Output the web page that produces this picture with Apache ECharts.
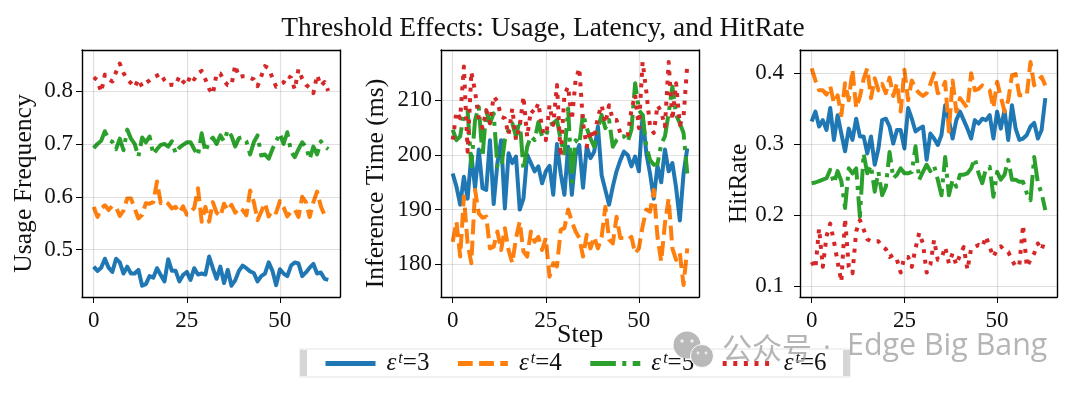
<!DOCTYPE html>
<html><head><meta charset="utf-8">
<style>html,body{margin:0;padding:0;background:#fff}#c{width:1080px;height:395px}</style>
<script src="https://cdn.jsdelivr.net/npm/echarts@6/dist/echarts.min.js"></script>
</head><body><div id="c"></div>
<script>
const xTicks=[0,25,50];
const usageTicks=[0.5,0.6,0.7,0.8];
const latencyTicks=[180,190,200,210];
const hitTicks=[0.1,0.2,0.3,0.4];
const seriesNames=['ε^t=3','ε^t=4','ε^t=5','ε^t=6'];
const usage3=[.468,.460,.466,.483,.466,.458,.483,.476,.455,.468,
.455,.455,.462,.432,.435,.450,.447,.465,.452,.440,
.482,.460,.460,.440,.452,.458,.443,.465,.453,.455,
.453,.487,.465,.445,.468,.437,.462,.432,.442,.460,
.470,.465,.459,.456,.440,.450,.455,.476,.460,.433,
.463,.455,.450,.470,.476,.474,.450,.457,.466,.473,
.455,.457,.445,.443];
const usage4=[.581,.562,.578,.584,.575,.583,.580,.564,.574,.597,
.597,.578,.559,.566,.588,.587,.590,.629,.588,.592,
.587,.578,.581,.570,.582,.566,.571,.579,.616,.553,
.581,.553,.590,.570,.563,.587,.574,.585,.570,.580,
.575,.565,.612,.590,.556,.572,.588,.563,.575,.570,
.592,.580,.563,.572,.576,.562,.600,.590,.562,.590,
.610,.582,.565,.571];
const usage5=[.692,.700,.706,.724,.708,.704,.690,.710,.688,.727,
.710,.700,.676,.712,.703,.714,.680,.690,.698,.700,
.695,.705,.682,.693,.698,.703,.703,.690,.678,.720,
.685,.705,.712,.700,.716,.705,.726,.715,.695,.711,
.713,.705,.680,.703,.716,.678,.680,.672,.690,.705,
.720,.700,.722,.685,.675,.690,.703,.695,.671,.695,
.680,.705,.695,.690];
const usage6=[.826,.820,.798,.831,.822,.818,.836,.852,.834,.822,
.815,.807,.822,.808,.815,.820,.826,.829,.833,.820,
.811,.812,.811,.828,.818,.811,.830,.822,.834,.838,
.822,.804,.794,.833,.833,.819,.811,.811,.849,.826,
.828,.828,.825,.822,.809,.828,.847,.843,.825,.808,
.812,.816,.829,.825,.803,.841,.823,.812,.806,.796,
.830,.810,.817,.800];
const latency3=[196.6,194.2,190.9,196,192,200,194,201,193.9,193.6,
202.7,191,198.5,202.7,190.2,200.3,198.5,199.7,190,192,
200,198.5,197,197.9,194.8,197,198,192.7,202,196.6,
192.7,201.5,192.7,200,201.8,194,201.5,199.4,200.6,205.2,
196.3,193.6,190.9,194.2,197,199,200.6,200,197.9,199.7,
197,207.3,200.3,196.6,192,198,195,201,197,198.5,
194,188,196.6,201.2];
const latency4=[184.1,187.8,181.4,192.4,183.8,180.2,193.6,189.3,188.5,188.7,
182.9,183.2,186,182.6,186.6,182.6,180.2,184.8,187.8,182.3,
181.4,186,184.1,185,182.6,184.8,177.7,180.2,179.6,186.3,
186.6,190,187.8,186,184.8,181.4,185.4,182.9,185,182.9,
185,190.5,184.5,183.8,188.7,184.8,184.8,184.5,185,182,
182.9,186.9,190,189.6,193.6,185,180.5,187.5,192,182.9,
180.8,182,176.2,182.9];
const latency5=[204.6,202.7,203.4,207.6,208,197.9,206.4,208.8,199.7,208,
205.8,207.6,197.9,197.6,202.7,204.6,205.8,203.4,206.4,197.3,
201.5,203.4,202.7,206,203.4,203.4,205.5,205.8,206.4,202.7,
200.3,208.5,195.1,202.7,202,207.6,204.9,203,201.5,204.9,
207.3,204.9,206.4,201.5,202.7,203.4,203.4,202.4,204.6,213.1,
208.2,207.3,201.5,199.1,198.2,198.3,202,203.4,207.6,212.5,
207.3,205.8,204,196.6];
const latency6=[202.8,207.9,206.7,216.2,200.6,215.2,211.6,206.7,204.9,208.2,
205.8,210.7,209.8,207,206.7,203.7,208.5,202.7,205.2,210.7,
203.3,208.2,207.6,209.5,204.9,202.7,209.1,205.5,212.8,199.7,
211,212.5,206.4,213.7,215.9,205.8,201.5,204.6,203,207,
209.1,205.8,209.1,206.4,206.4,204,203.7,203.7,208.2,211,
204.9,217,211.6,205.2,204,209.1,207.9,205.2,217,206.4,
213.1,205.5,207,216.5];
const hit3=[.332,.346,.325,.334,.320,.351,.306,.341,.315,.290,
.322,.306,.336,.311,.311,.287,.311,.271,.294,.334,
.336,.325,.301,.320,.320,.294,.351,.336,.318,.322,
.325,.278,.315,.308,.299,.313,.355,.334,.308,.334,
.346,.334,.322,.308,.334,.329,.336,.334,.341,.308,
.346,.322,.348,.306,.355,.322,.306,.308,.313,.325,
.330,.308,.320,.365];
const hit4=[.407,.390,.376,.376,.370,.382,.358,.369,.341,.386,
.362,.405,.351,.367,.392,.407,.365,.393,.376,.385,
.372,.394,.368,.386,.346,.405,.362,.390,.378,.372,
.368,.372,.385,.400,.372,.375,.388,.318,.390,.346,
.365,.358,.351,.400,.376,.378,.383,.380,.376,.351,
.388,.367,.346,.362,.397,.399,.369,.369,.369,.416,
.383,.390,.395,.383];
const hit5=[.245,.246,.248,.250,.252,.264,.245,.262,.248,.210,
.266,.259,.266,.198,.287,.259,.270,.233,.261,.228,
.240,.289,.252,.257,.266,.259,.259,.261,.297,.250,
.261,.271,.262,.270,.250,.228,.282,.228,.250,.240,
.257,.257,.259,.266,.280,.259,.245,.266,.268,.226,
.261,.250,.257,.278,.250,.250,.247,.247,.231,.221,
.282,.245,.231,.207];
const hit6=[.134,.125,.181,.127,.170,.188,.163,.134,.106,.195,
.127,.118,.177,.193,.180,.166,.163,.163,.163,.156,
.152,.141,.144,.137,.119,.141,.141,.127,.153,.175,
.160,.119,.130,.165,.137,.139,.155,.132,.146,.130,
.144,.155,.123,.153,.155,.158,.155,.170,.155,.141,
.152,.156,.150,.148,.137,.127,.130,.186,.127,.137,
.146,.160,.151,.167];

const colors=['#1f77b4','#ff7f0e','#2ca02c','#d62728'];
const LW=4;
const dashes=['solid',[14.8,6.4],[25.6,6.4,4,6.4],[4,6.6]];
const serif='"Liberation Serif","Times New Roman",serif';
const panels=[
 {left:82,w:258,ymin:0.4106,ymax:0.8775,ticks:usageTicks,name:'Usage Frequency',data:[usage3,usage4,usage5,usage6],fmt:v=>v.toFixed(1),gap:45,lm:9},
 {left:441,w:258,ymin:174.0,ymax:219.2,ticks:latencyTicks,name:'Inference Time (ms)',data:[latency3,latency4,latency5,latency6],fmt:v=>String(v),gap:52,lm:9},
 {left:800,w:257,ymin:0.0845,ymax:0.4329,ticks:hitTicks,name:'HitRate',data:[hit3,hit4,hit5,hit6],fmt:v=>v.toFixed(1),gap:48,lm:16}
];
const grids=[],xAxes=[],yAxes=[],series=[];
panels.forEach((p,i)=>{
 grids.push({left:p.left,top:50,width:p.w,height:247,show:false});
 const line={show:true,onZero:false,lineStyle:{color:'#000',width:1.4}};
 xAxes.push({gridIndex:i,type:'value',min:-3.15,max:66.15,position:'bottom',
  axisLine:line,splitLine:{show:false},
  axisTick:{show:true,length:6,lineStyle:{color:'#000',width:1},customValues:xTicks},
  axisLabel:{customValues:xTicks,color:'#111',fontFamily:serif,fontSize:23,margin:12,formatter:v=>String(v)}});
 xAxes.push({gridIndex:i,type:'value',min:-3.15,max:66.15,position:'top',axisLine:line,axisTick:{show:false},axisLabel:{show:false},splitLine:{show:false}});
 yAxes.push({gridIndex:i,type:'value',min:p.ymin,max:p.ymax,position:'left',
  name:p.name,nameLocation:'middle',nameGap:p.gap,nameMoveOverlap:false,nameTextStyle:{color:'#111',fontFamily:serif,fontSize:25.6,padding:[0,20,0,0]},
  axisLine:line,splitLine:{show:false},
  axisTick:{show:true,length:6,lineStyle:{color:'#000',width:1},customValues:p.ticks},
  axisLabel:{customValues:p.ticks,color:'#111',fontFamily:serif,fontSize:23,margin:p.lm,formatter:p.fmt}});
 yAxes.push({gridIndex:i,type:'value',min:p.ymin,max:p.ymax,position:'right',axisLine:line,axisTick:{show:false},axisLabel:{show:false},splitLine:{show:false}});
 series.push({type:'line',xAxisIndex:i*2,yAxisIndex:i*2,data:[],z:1,silent:true,
  markLine:{silent:true,symbol:'none',animation:false,label:{show:false},lineStyle:{color:'#000',opacity:.12,width:1.2,type:'solid'},
   data:[...xTicks.map(v=>({xAxis:v})),...p.ticks.map(v=>({yAxis:v}))]}});
 p.data.forEach((d,k)=>{
  series.push({type:'line',name:seriesNames[k],xAxisIndex:i*2,yAxisIndex:i*2,z:2+k,
   data:d.map((v,j)=>[j,v]),showSymbol:false,symbol:'none',animation:false,smooth:false,
   lineStyle:{color:colors[k],width:LW,type:dashes[k],cap:'butt',join:'round'},itemStyle:{color:colors[k]}});
 });
});
const sup={'ε^t=3':'3','ε^t=4':'4','ε^t=5':'5','ε^t=6':'6'};
const chart=echarts.init(document.getElementById('c'),null,{renderer:'canvas'});
chart.setOption({
 animation:false,backgroundColor:'#fff',
 title:{text:'Threshold Effects: Usage, Latency, and HitRate',left:538,top:10,textAlign:'center',textStyle:{fontFamily:serif,fontWeight:'normal',fontSize:27.4,color:'#111'}},
 grid:grids,xAxis:xAxes,yAxis:yAxes,series,
 legend:{data:seriesNames,left:323,top:351,itemWidth:50,itemHeight:2,itemGap:26,padding:0,z:20,
  itemStyle:{opacity:0},lineStyle:{width:5},
  formatter:n=>`{e|ε}{t|t}{n|=${sup[n]}}`,
  textStyle:{fontFamily:serif,fontSize:25,color:'#111',rich:{e:{fontFamily:serif,fontSize:25,fontStyle:'italic',color:'#111',padding:[0,0,0,6]},t:{fontFamily:serif,fontSize:16,fontStyle:'italic',color:'#111',verticalAlign:'top',padding:[0,0,8,2]},n:{fontFamily:serif,fontSize:25,color:'#111'}}}},
 graphic:[
  {type:'rect',z:5,shape:{x:300,y:349,width:550,height:28},style:{fill:'#fff',stroke:'#e4e4e4',lineWidth:1}},
  {type:'rect',z:5,shape:{x:300,y:350,width:7,height:26},style:{fill:'#d6d6d6'}},
  {type:'rect',z:5,shape:{x:843,y:350,width:7,height:26},style:{fill:'#d6d6d6'}},
  {type:'text',z:6,left:557,top:322,style:{text:'Step',font:'26px '+serif,fill:'#111'}},
  {type:'text',z:30,left:722,top:333,style:{text:'公众号',font:'30px "Noto Sans CJK SC"',fill:'rgba(150,150,150,.7)'}},
  {type:'text',z:30,left:823,top:333,style:{text:'·',font:'30px "Open Sans"',fill:'rgba(150,150,150,.7)'}},
  {type:'text',z:30,left:847,top:331,style:{text:'Edge Big Bang',font:'30.4px "Open Sans"',fill:'rgba(150,150,150,.7)'}},
  {type:'circle',z:30,shape:{cx:687,cy:345,r:13.5},style:{fill:'rgb(185,185,185)'}},
  {type:'circle',z:31,shape:{cx:702,cy:356,r:11.5},style:{fill:'rgb(185,185,185)',stroke:'#fff',lineWidth:1}},
  {type:'circle',z:32,shape:{cx:682,cy:341,r:1.7},style:{fill:'#eee'}},
  {type:'circle',z:32,shape:{cx:692,cy:341,r:1.7},style:{fill:'#eee'}},
  {type:'circle',z:32,shape:{cx:698,cy:353,r:1.4},style:{fill:'#eee'}},
  {type:'circle',z:32,shape:{cx:706,cy:353,r:1.4},style:{fill:'#eee'}}
 ]
});
</script></body></html>
